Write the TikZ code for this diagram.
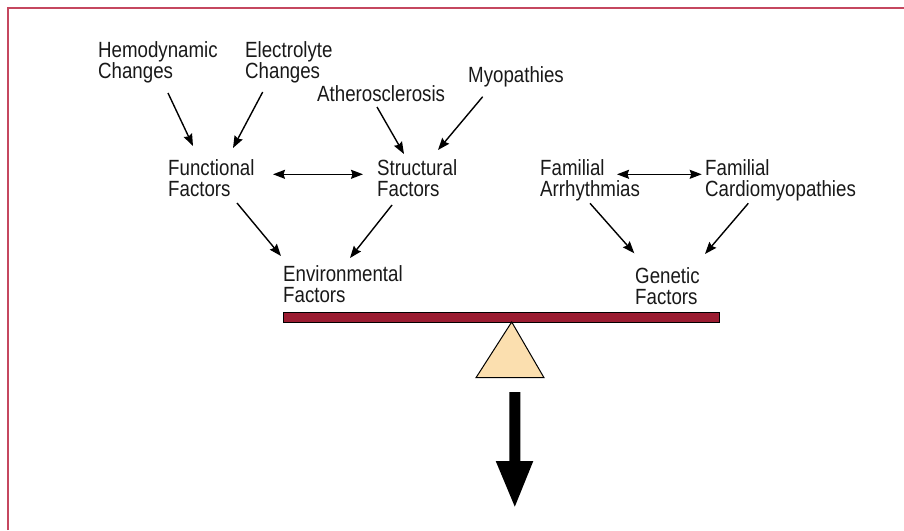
\documentclass[tikz,border=0pt]{standalone}
\usepackage{fontspec}
\setmainfont{Liberation Sans}[FakeStretch=0.85]
\usetikzlibrary{arrows.meta}
\definecolor{framered}{HTML}{C5475F}
\definecolor{beamred}{HTML}{9B1C31}
\definecolor{peach}{HTML}{FBDFAF}
\begin{document}
\begin{tikzpicture}[x=1pt,y=-1pt,
  lbl/.style={anchor=north west,inner sep=0pt,align=left,text=black!90,font=\fontsize{22}{21.6}\selectfont},
  arr/.style={line width=1.4pt,-{Stealth[length=12pt,width=9pt,inset=1.5pt]}},
  darr/.style={line width=1.4pt,{Stealth[length=12pt,width=9pt,inset=1.5pt]}-{Stealth[length=12pt,width=9pt,inset=1.5pt]}}]
\useasboundingbox (0,0) rectangle (904,530);
\fill[white] (0,0) rectangle (904,530);
\draw[framered,line width=1.5pt] (8,530) -- (8,8) -- (904,8);

\node[lbl] (hemo) at (98,41) {Hemodynamic\\Changes};
\node[lbl] (elec) at (245,41) {Electrolyte\\Changes};
\node[lbl] (athero) at (317,85) {Atherosclerosis};
\node[lbl] (myo) at (468,66) {Myopathies};
\node[lbl] (func) at (168,159) {Functional\\Factors};
\node[lbl] (struct) at (377,159) {Structural\\Factors};
\node[lbl] (env) at (283,265) {Environmental\\Factors};
\node[lbl] (famarr) at (540,159) {Familial\\Arrhythmias};
\node[lbl] (famcard) at (705,159) {Familial\\Cardiomyopathies};
\node[lbl] (gen) at (635,267) {Genetic\\Factors};

\draw[arr] ([shift={(70,52)}]hemo.north west) -- ([shift={(25,-13)}]func.north west);
\draw[arr] ([shift={(17.7,51)}]elec.north west) -- ([shift={(65,-11)}]func.north west);
\draw[darr] ([shift={(105,15.3)}]func.north west) -- ([shift={(-14,15.3)}]struct.north west);
\draw[arr] ([shift={(60,22)}]athero.north west) -- ([shift={(27,-5)}]struct.north west);
\draw[arr] ([shift={(14.7,30.7)}]myo.north west) -- ([shift={(61,-9)}]struct.north west);
\draw[arr] ([shift={(69,44)}]func.north west) -- ([shift={(-2,-9)}]env.north west);
\draw[arr] ([shift={(15,46)}]struct.north west) -- ([shift={(67,-7)}]env.north west);
\draw[darr] ([shift={(77,15.3)}]famarr.north west) -- ([shift={(-3.3,15.3)}]famcard.north west);
\draw[arr] ([shift={(50,44.3)}]famarr.north west) -- ([shift={(-0.7,-13.7)}]gen.north west);
\draw[arr] ([shift={(43.3,44.3)}]famcard.north west) -- ([shift={(70,-13)}]gen.north west);

% balance
\draw[fill=beamred,line width=1pt] (283,312) rectangle (719,322);
\draw[fill=peach,line width=1pt,line join=miter] (511.7,322) -- (544,377.7) -- (476,377.7) -- cycle;
\fill[black] (509.3,392) -- (520.3,392) -- (520.3,461) -- (533.3,461) -- (514.8,506.7) -- (495.7,461) -- (509.3,461) -- cycle;
\end{tikzpicture}
\end{document}
